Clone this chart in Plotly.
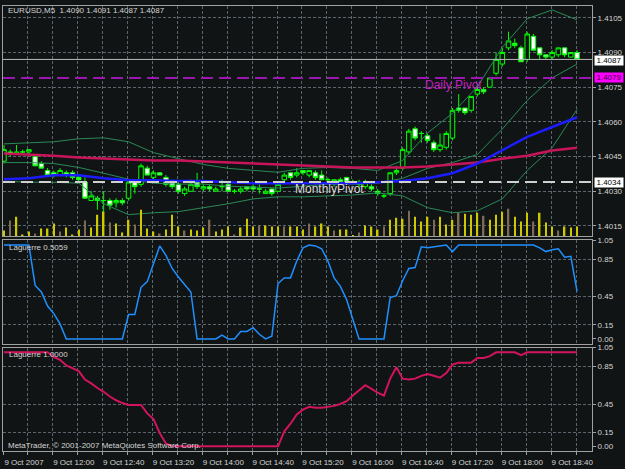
import plotly.graph_objects as go

# ---------------- data ----------------
bars = list(range(93))  # M5 bars, 9 Oct 2007 11:20 .. 19:00

opens = [1.4043, 1.4047, 1.4046, 1.4047, 1.4047, 1.4045, 1.4042, 1.4039, 1.4038, 1.4037,
         1.4038, 1.4038, 1.4036, 1.4034, 1.4026, 1.4027, 1.4026, 1.4026, 1.4025, 1.4026,
         1.4027, 1.4034, 1.4033, 1.4040, 1.4036, 1.4038, 1.4036, 1.4034, 1.4033, 1.4029,
         1.4030, 1.4034, 1.4031, 1.4032, 1.4030, 1.4032, 1.4033, 1.4030, 1.4030, 1.4032,
         1.4032, 1.4031, 1.4029, 1.4031, 1.4030, 1.4035, 1.4038, 1.4037, 1.4039, 1.4037,
         1.4038, 1.4037, 1.4035, 1.4033, 1.4035, 1.4036, 1.4034, 1.4034, 1.4032, 1.4032,
         1.4030, 1.4028, 1.4029, 1.4038, 1.4040, 1.4047, 1.4057, 1.4055, 1.4054, 1.4051,
         1.4048, 1.4049, 1.4053, 1.4066, 1.4066, 1.4065, 1.4072, 1.4074, 1.4075, 1.4081,
         1.4085, 1.4092, 1.4094, 1.4092, 1.4087, 1.4097, 1.4092, 1.4089, 1.4088, 1.4089,
         1.4092, 1.4088, 1.4090]
highs = [1.4050, 1.4048, 1.4050, 1.4048, 1.4048, 1.4046, 1.4043, 1.4040, 1.4039, 1.4040,
         1.4039, 1.4039, 1.4037, 1.4036, 1.4030, 1.4028, 1.4030, 1.4027, 1.4027, 1.4027,
         1.4035, 1.4035, 1.4042, 1.4041, 1.4039, 1.4038, 1.4037, 1.4035, 1.4034, 1.4032,
         1.4035, 1.4038, 1.4033, 1.4033, 1.4032, 1.4035, 1.4034, 1.4031, 1.4032, 1.4032,
         1.4033, 1.4033, 1.4031, 1.4031, 1.4033, 1.4038, 1.4038, 1.4040, 1.4039, 1.4039,
         1.4039, 1.4039, 1.4036, 1.4035, 1.4036, 1.4036, 1.4035, 1.4035, 1.4035, 1.4033,
         1.4031, 1.4029, 1.4038, 1.4041, 1.4049, 1.4057, 1.4058, 1.4056, 1.4055, 1.4052,
         1.4055, 1.4056, 1.4066, 1.4072, 1.4066, 1.4071, 1.4076, 1.4075, 1.4079, 1.4090,
         1.4092, 1.4099, 1.4096, 1.4093, 1.4099, 1.4098, 1.4092, 1.4089, 1.4091, 1.4092,
         1.4092, 1.4090, 1.4091]
lows = [1.4042, 1.4045, 1.4046, 1.4046, 1.4046, 1.4041, 1.4040, 1.4037, 1.4036, 1.4037,
        1.4036, 1.4035, 1.4034, 1.4027, 1.4026, 1.4022, 1.4021, 1.4022, 1.4023, 1.4024,
        1.4026, 1.4029, 1.4032, 1.4037, 1.4035, 1.4037, 1.4032, 1.4031, 1.4029, 1.4028,
        1.4030, 1.4031, 1.4030, 1.4030, 1.4030, 1.4030, 1.4030, 1.4029, 1.4029, 1.4030,
        1.4030, 1.4029, 1.4029, 1.4028, 1.4030, 1.4034, 1.4035, 1.4036, 1.4037, 1.4036,
        1.4035, 1.4035, 1.4034, 1.4032, 1.4033, 1.4033, 1.4033, 1.4032, 1.4031, 1.4030,
        1.4028, 1.4027, 1.4028, 1.4037, 1.4039, 1.4046, 1.4052, 1.4051, 1.4051, 1.4047,
        1.4047, 1.4048, 1.4052, 1.4064, 1.4063, 1.4064, 1.4071, 1.4072, 1.4075, 1.4080,
        1.4084, 1.4091, 1.4092, 1.4086, 1.4086, 1.4091, 1.4087, 1.4087, 1.4087, 1.4088,
        1.4088, 1.4088, 1.4087]
closes = [1.4048, 1.4046, 1.4047, 1.4047, 1.4048, 1.4041, 1.4040, 1.4037, 1.4037, 1.4039,
          1.4037, 1.4036, 1.4035, 1.4027, 1.4028, 1.4026, 1.4026, 1.4024, 1.4026, 1.4025,
          1.4034, 1.4032, 1.4041, 1.4037, 1.4038, 1.4037, 1.4033, 1.4032, 1.4030, 1.4031,
          1.4033, 1.4032, 1.4032, 1.4031, 1.4031, 1.4032, 1.4030, 1.4030, 1.4031, 1.4031,
          1.4031, 1.4031, 1.4030, 1.4029, 1.4033, 1.4037, 1.4036, 1.4038, 1.4038, 1.4039,
          1.4036, 1.4035, 1.4035, 1.4035, 1.4034, 1.4034, 1.4034, 1.4033, 1.4034, 1.4031,
          1.4029, 1.4028, 1.4038, 1.4039, 1.4048, 1.4056, 1.4053, 1.4055, 1.4052, 1.4048,
          1.4050, 1.4055, 1.4065, 1.4065, 1.4064, 1.4071, 1.4074, 1.4073, 1.4079, 1.4087,
          1.4090, 1.4095, 1.4093, 1.4086, 1.4098, 1.4091, 1.4089, 1.4088, 1.4090, 1.4092,
          1.4089, 1.4090, 1.4087]
volumes = [6, 16, 20, 2, 5, 3, 8, 8, 13, 5,
           9, 2, 7, 16, 9, 22, 25, 14, 13, 4,
           17, 12, 27, 8, 5, 3, 7, 22, 10, 6,
           7, 6, 9, 17, 5, 7, 10, 2, 9, 18,
           10, 11, 11, 10, 10, 10, 10, 10, 7, 13,
           10, 13, 10, 6, 7, 7, 1, 4, 11, 10,
           7, 10, 17, 19, 18, 26, 20, 15, 20, 17,
           20, 12, 17, 24, 23, 22, 24, 21, 17, 22,
           25, 28, 20, 15, 24, 15, 24, 14, 10, 6,
           10, 9, 10]

# indicator lines sampled every 4 bars
band_bars = list(range(0, 93, 4))
bb_upper = [1.40505, 1.40510, 1.40514, 1.40527, 1.40531, 1.40514, 1.40467, 1.40441,
            1.40416, 1.40399, 1.40390, 1.40382, 1.40399, 1.40403, 1.40399, 1.40390,
            1.40433, 1.40552, 1.40637, 1.40752, 1.40922, 1.41046, 1.41084, 1.41041]
bb_middle = [1.40424, 1.40424, 1.40420, 1.40403, 1.40378, 1.40352, 1.40335, 1.40331,
             1.40331, 1.40322, 1.40318, 1.40314, 1.40322, 1.40331, 1.40331, 1.40335,
             1.40356, 1.40399, 1.40424, 1.40459, 1.40569, 1.40693, 1.40790, 1.40850]
bb_lower = [1.40344, 1.40339, 1.40339, 1.40335, 1.40246, 1.40199, 1.40207, 1.40212,
            1.40229, 1.40246, 1.40267, 1.40276, 1.40276, 1.40280, 1.40284, 1.40293,
            1.40280, 1.40229, 1.40207, 1.40216, 1.40267, 1.40390, 1.40488, 1.40654]
ma_blue = [1.40352, 1.40356, 1.40369, 1.40369, 1.40356, 1.40348, 1.40348, 1.40344,
           1.40344, 1.40339, 1.40335, 1.40335, 1.40335, 1.40335, 1.40335, 1.40339,
           1.40344, 1.40356, 1.40378, 1.40420, 1.40476, 1.40535, 1.40578, 1.40620]
ma_crimson = [1.40463, 1.40459, 1.40454, 1.40446, 1.40441, 1.40437, 1.40433, 1.40433,
              1.40429, 1.40424, 1.40420, 1.40416, 1.40412, 1.40407, 1.40403, 1.40403,
              1.40403, 1.40407, 1.40416, 1.40424, 1.40441, 1.40454, 1.40476, 1.40488]

laguerre_fast = [1, 1, 1, 1, 1, 0.57, 0.50, 0.35, 0.27, 0.16,
                 0, 0, 0, 0, 0, 0, 0, 0, 0, 0,
                 0.26, 0.26, 0.55, 0.61, 0.80, 0.99, 0.89, 0.75, 0.66, 0.58,
                 0.50, 0, 0, 0, 0, 0.04, 0, 0, 0.08, 0.08,
                 0.12, 0.05, 0, 0.03, 0.59, 0.65, 0.65, 0.83, 0.97, 1.0,
                 0.99, 0.96, 0.83, 0.65, 0.56, 0.42, 0.20, 0, 0, 0,
                 0, 0, 0.44, 0.46, 0.62, 0.75, 0.76, 0.98, 0.97, 0.98,
                 0.99, 1.0, 0.93, 1.0, 1.0, 1, 1, 1, 1, 1,
                 1, 1, 1, 1, 1, 1.0, 0.97, 0.93, 0.95, 0.96,
                 0.87, 0.88, 0.5059]
laguerre_slow = [1, 1, 1, 1, 1, 1, 1, 1, 0.95, 0.92,
                 0.86, 0.83, 0.80, 0.71, 0.67, 0.62, 0.58, 0.53, 0.49, 0.46,
                 0.44, 0.44, 0.44, 0.35, 0.29, 0.14, 0.03, 0, 0, 0,
                 0, 0, 0, 0, 0, 0, 0, 0, 0, 0,
                 0, 0, 0, 0, 0, 0.16, 0.24, 0.34, 0.39, 0.42,
                 0.41, 0.41, 0.42, 0.43, 0.45, 0.48, 0.54, 0.60, 0.65, 0.61,
                 0.57, 0.54, 0.72, 0.84, 0.72, 0.71, 0.72, 0.75, 0.77, 0.75,
                 0.73, 0.78, 0.87, 0.89, 0.89, 0.89, 0.94, 0.94, 0.96, 1.0,
                 1, 1, 1, 0.97, 1.0, 1, 1, 1, 1, 1,
                 1, 1, 1.0]

bid_price = 1.4087
daily_pivot = 1.4079
monthly_pivot = 1.4034
symbol_title = "EURUSD,M5  1.4090 1.4091 1.4087 1.4087"

price_ticks = [1.4105, 1.4090, 1.4075, 1.4060, 1.4045, 1.4030, 1.4015]
lag_ticks = [1.05, 0.85, 0.45, 0.15, 0.0]
lag_tick_text = ["1.05", "0.85", "0.45", "0.15", "0.00"]
lag_levels = [0.85, 0.45, 0.15]
time_labels = ["9 Oct 2007", "9 Oct 12:00", "9 Oct 12:40", "9 Oct 13:20", "9 Oct 14:00",
               "9 Oct 14:40", "9 Oct 15:20", "9 Oct 16:00", "9 Oct 16:40", "9 Oct 17:20",
               "9 Oct 18:00", "9 Oct 18:40"]

# ---------------- styling ----------------
BG = "#111414"
GRID = "#5b656d"
FRAME = "#a0a0a0"
TXT = "#d4d4d4"
FONT = "Liberation Sans, Arial, sans-serif"
FS = 8

grid_vals = [b - 0.16 for b in range(0, 93, 4)]
grid_text = []
k = 0
for b in range(0, 93, 4):
    if b % 8 == 0 and k < len(time_labels):
        grid_text.append(time_labels[k]); k += 1
    else:
        grid_text.append("")

vol_colors = ["#7d6a55" if b % 4 == 1 else "#cdc800" for b in bars]

fig = go.Figure()

fig.add_trace(go.Bar(x=bars, y=volumes, marker=dict(color=vol_colors, line=dict(width=0)),
                     width=0.24, xaxis="x", yaxis="y4", hoverinfo="skip"))

for ys, col, w in [(bb_upper, "#2a8a58", 1), (bb_middle, "#2a8a58", 1), (bb_lower, "#2a8a58", 1),
                   (ma_crimson, "#c8145a", 2.5), (ma_blue, "#1c1cff", 2.5)]:
    fig.add_trace(go.Scatter(x=band_bars, y=ys, mode="lines", line=dict(color=col, width=w),
                             xaxis="x", yaxis="y", hoverinfo="skip"))

fig.add_trace(go.Candlestick(
    x=bars, open=opens, high=highs, low=lows, close=closes,
    increasing=dict(line=dict(color="#00ff00", width=1), fillcolor=BG),
    decreasing=dict(line=dict(color="#00ff00", width=1), fillcolor="#ffffff"),
    whiskerwidth=0, xaxis="x", yaxis="y"))

fig.add_trace(go.Scatter(x=bars, y=laguerre_fast, mode="lines",
                         line=dict(color="#1e90ff", width=1.5), xaxis="x2", yaxis="y2"))
fig.add_trace(go.Scatter(x=bars, y=laguerre_slow, mode="lines",
                         line=dict(color="#d2145f", width=2), xaxis="x3", yaxis="y3"))

xr = [-0.16, 94.4]
xcommon = dict(range=xr, tickvals=grid_vals, ticktext=grid_text, showgrid=True,
               gridcolor=GRID, griddash="3px,2px", gridwidth=1, zeroline=False,
               showline=True, mirror=True, linecolor=FRAME, linewidth=1,
               fixedrange=True)
ycommon = dict(side="right", showgrid=True, gridcolor=GRID, griddash="3px,2px",
               zeroline=False, showline=True, mirror=True, linecolor=FRAME,
               ticks="outside", ticklen=3, tickcolor=FRAME,
               tickfont=dict(family=FONT, size=FS, color=TXT))

fig.update_layout(
    width=625, height=469,
    margin=dict(l=2, r=32, t=3, b=14),
    paper_bgcolor=BG, plot_bgcolor=BG, showlegend=False,
    boxgap=0.15, boxgroupgap=0.15,
    font=dict(family=FONT, size=FS, color=TXT),
    xaxis=dict(**xcommon, anchor="y", showticklabels=False, rangeslider=dict(visible=False)),
    xaxis2=dict(**xcommon, anchor="y2", showticklabels=False, matches="x"),
    xaxis3=dict(**xcommon, anchor="y3", matches="x", showticklabels=True,
                ticks="outside", ticklen=3, tickcolor=FRAME, ticklabelshift=21,
                tickfont=dict(family=FONT, size=FS, color=TXT)),
    yaxis=dict(**ycommon, domain=[0.4823, 1.0], range=[1.40105, 1.41101], anchor="x",
               tickvals=price_ticks, tickformat=".4f"),
    yaxis2=dict(**{**ycommon, "showgrid": False}, domain=[0.2412, 0.4735], range=[-0.05, 1.05],
                anchor="x2", tickvals=lag_ticks, ticktext=lag_tick_text,
                minor=dict(tickvals=lag_levels, showgrid=True, gridcolor=GRID, griddash="3px,2px")),
    yaxis3=dict(**{**ycommon, "showgrid": False}, domain=[0.0, 0.2323], range=[-0.05, 1.05],
                anchor="x3", tickvals=lag_ticks, ticktext=lag_tick_text,
                minor=dict(tickvals=lag_levels, showgrid=True, gridcolor=GRID, griddash="3px,2px")),
    yaxis4=dict(overlaying="y", range=[0, 234], visible=False, fixedrange=True),
    shapes=[
        dict(type="line", xref="x domain", x0=0, x1=1, yref="y", y0=bid_price, y1=bid_price,
             line=dict(color="#b8b8b8", width=1)),
        dict(type="line", xref="x domain", x0=0, x1=1, yref="y", y0=daily_pivot, y1=daily_pivot,
             line=dict(color="#9a18b0", width=2, dash="12px,6px")),
        dict(type="line", xref="x domain", x0=0, x1=1, yref="y", y0=monthly_pivot, y1=monthly_pivot,
             line=dict(color="#cfcfcf", width=2, dash="12px,6px")),
    ],
)

ann = []
ann.append(dict(text=symbol_title, xref="paper", x=0, xshift=3, xanchor="left",
                yref="paper", y=1, yshift=-4, yanchor="middle", showarrow=False,
                font=dict(family=FONT, size=FS, color=TXT)))
ann.append(dict(text=f"Laguerre {laguerre_fast[-1]:.4f}", xref="paper", x=0, xshift=4,
                xanchor="left", yref="y2 domain", y=1, yshift=-7, yanchor="middle",
                showarrow=False, font=dict(family=FONT, size=FS, color=TXT)))
ann.append(dict(text=f"Laguerre {laguerre_slow[-1]:.4f}", xref="paper", x=0, xshift=4,
                xanchor="left", yref="y3 domain", y=1, yshift=-7, yanchor="middle",
                showarrow=False, font=dict(family=FONT, size=FS, color=TXT)))
ann.append(dict(text="MetaTrader, © 2001-2007 MetaQuotes Software Corp.", xref="paper", x=0,
                xshift=3, xanchor="left", yref="y3 domain", y=0, yshift=6, yanchor="middle",
                showarrow=False, font=dict(family=FONT, size=FS, color=TXT)))
ann.append(dict(text="Daily Pivot", xref="x", x=67.2, xanchor="left", yref="y", y=daily_pivot,
                yshift=-7, yanchor="middle", showarrow=False,
                font=dict(family=FONT, size=12, color="#c41ec4")))
ann.append(dict(text="MonthlyPivot", xref="x", x=46.4, xanchor="left", yref="y", y=monthly_pivot,
                yshift=-7, yanchor="middle", showarrow=False,
                font=dict(family=FONT, size=12, color="#d8d8d8")))
for val, bg, fc, ys in [(bid_price, "#ffffff", "#000000", -1.5), (daily_pivot, "#ff00ff", "#3a003a", 0),
                        (monthly_pivot, "#ffffff", "#000000", 0)]:
    ann.append(dict(text=f"{val:.4f}", xref="paper", x=1, xshift=2, xanchor="left",
                    yref="y", y=val, yshift=ys, yanchor="middle", showarrow=False, bgcolor=bg,
                    height=9, width=28, borderpad=0, font=dict(family=FONT, size=FS, color=fc)))
fig.update_layout(annotations=ann)

fig.write_html("out.html")
